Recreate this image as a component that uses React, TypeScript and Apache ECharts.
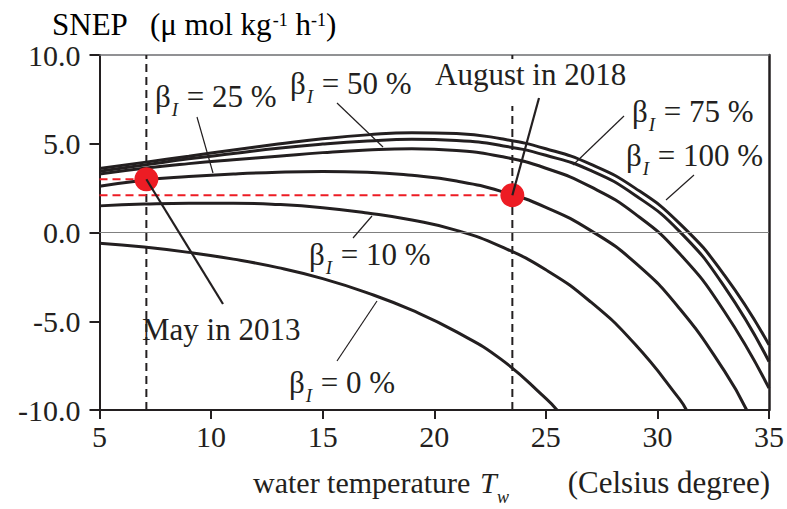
import React, { useEffect, useRef } from "react";
import * as echarts from "echarts";

// Water temperature samples (°C) and SNEP (µmol kg⁻¹ h⁻¹) per light-use ratio βI
const tempsFull = [5, 7, 9, 11, 13, 15, 17, 19, 21, 23, 25, 27, 29, 31, 33, 35];
const snep100 = [3.6, 3.95, 4.3, 4.65, 4.98, 5.28, 5.5, 5.62, 5.58, 5.28, 4.72, 3.85, 2.5, 0.5, -2.4, -6.33];
const snep75 = [3.45, 3.8, 4.15, 4.45, 4.75, 4.98, 5.15, 5.25, 5.18, 4.9, 4.35, 3.5, 2.1, 0.05, -3.05, -7.27];
const snep50 = [3.3, 3.62, 3.88, 4.1, 4.3, 4.5, 4.65, 4.72, 4.62, 4.28, 3.62, 2.58, 1.05, -1.2, -4.45, -8.77];

const temps25 = [5, 7, 9, 11, 13, 15, 17, 19, 21, 23, 25, 27, 29, 31, 33, 34];
const snep25 = [2.6, 2.95, 3.15, 3.3, 3.4, 3.44, 3.4, 3.22, 2.9, 2.32, 1.42, 0.12, -1.7, -4.3, -7.8, -10];

const temps10 = [5, 7, 9, 11, 13, 15, 17, 19, 21, 23, 25, 27, 29, 31, 31.3];
const snep10 = [1.5, 1.6, 1.65, 1.65, 1.58, 1.4, 1.1, 0.7, 0.12, -0.8, -2.1, -3.9, -6.3, -9.4, -10];

const temps0 = [5, 7, 9, 11, 13, 15, 17, 19, 21, 23, 25, 25.5];
const snep0 = [-0.6, -0.82, -1.12, -1.5, -1.98, -2.6, -3.4, -4.38, -5.6, -7.15, -9.35, -10];

// Observed months: [water temperature, SNEP]
const may2013 = [7.1, 3.0];
const aug2018 = [23.5, 2.1];

const xTicks = [5, 10, 15, 20, 25, 30, 35];
const yTicks = [-10, -5, 0, 5, 10];

const FONT = "'Liberation Serif', 'Times New Roman', serif";
const INK = "#231f20";
const RED = "#ed1c24";

const zip = (xs: number[], ys: number[]) => xs.map((x, i) => [x, ys[i]]);

const curve = (name: string, data: number[][]) => ({
  name,
  type: "line",
  data,
  showSymbol: false,
  symbol: "none",
  smooth: 0.5,
  lineStyle: { color: INK, width: 3 },
  z: 3,
  silent: true,
});

const mainTok = { fontSize: 31, fontFamily: FONT, color: INK, verticalAlign: "top" };
const betaRich = {
  m: mainTok,
  s: { fontSize: 19, fontFamily: FONT, fontStyle: "italic", color: INK, verticalAlign: "top", padding: [19, 1, 0, 1] },
};

const betaText = (pct: string, x: number, y: number) => ({
  type: "text",
  x,
  y,
  z: 10,
  style: {
    text: `{m|β}{s|I}{m| = ${pct} %}`,
    rich: betaRich,
    align: "left",
    verticalAlign: "top",
    fill: INK,
  },
});

const plainText = (text: string, x: number, y: number, extra: any = {}) => ({
  type: "text",
  x,
  y,
  z: 10,
  style: {
    text,
    fontSize: 31,
    fontFamily: FONT,
    fill: INK,
    align: "left",
    verticalAlign: "top",
    ...extra,
  },
});

const leader = (x1: number, y1: number, x2: number, y2: number, w = 1.2) => ({
  type: "line",
  z: 12,
  shape: { x1, y1, x2, y2 },
  style: { stroke: INK, lineWidth: w },
});

export default function App() {
  const ref = useRef<HTMLDivElement>(null);

  useEffect(() => {
    if (!ref.current) return;
    const chart = echarts.init(ref.current, undefined, { renderer: "svg" });

    const axisFont = { fontSize: 30, fontFamily: FONT, color: INK };

    chart.setOption({
      animation: false,
      backgroundColor: "#ffffff",
      grid: { left: 99.5, right: 17.5, top: 55, bottom: 99 },
      xAxis: [
        {
          type: "value",
          min: xTicks[0],
          max: xTicks[xTicks.length - 1],
          interval: 5,
          axisLine: { onZero: false, lineStyle: { color: INK, width: 2 } },
          axisTick: { length: 9, lineStyle: { color: INK, width: 2 } },
          axisLabel: { ...axisFont, margin: 11 },
          splitLine: { show: false },
        },
        {
          type: "value",
          position: "top",
          min: xTicks[0],
          max: xTicks[xTicks.length - 1],
          axisLine: { onZero: false, lineStyle: { color: "#6d6e71", width: 1.5 } },
          axisTick: { show: false },
          axisLabel: { show: false },
          splitLine: { show: false },
        },
      ],
      yAxis: [
        {
          type: "value",
          min: yTicks[0],
          max: yTicks[yTicks.length - 1],
          interval: 5,
          axisLine: { show: true, onZero: false, lineStyle: { color: INK, width: 2 } },
          axisTick: { show: true, length: 10, lineStyle: { color: INK, width: 2 } },
          axisLabel: { ...axisFont, margin: 19, formatter: (v: number) => v.toFixed(1) },
          splitLine: { show: false },
        },
        {
          type: "value",
          position: "right",
          min: yTicks[0],
          max: yTicks[yTicks.length - 1],
          axisLine: { show: true, onZero: false, lineStyle: { color: INK, width: 2.5 } },
          axisTick: { show: false },
          axisLabel: { show: false },
          splitLine: { show: false },
        },
      ],
      series: [
        {
          name: "zero",
          type: "line",
          data: [],
          silent: true,
          markLine: {
            silent: true,
            symbol: "none",
            label: { show: false },
            lineStyle: { color: "#808080", width: 1.2, type: "solid" },
            data: [{ yAxis: 0 }],
          },
        },
        {
          name: "may-temp",
          type: "line",
          data: [[may2013[0], yTicks[0]], [may2013[0], yTicks[yTicks.length - 1]]],
          symbol: "none",
          lineStyle: { color: INK, width: 2, type: [8, 5] },
          z: 2,
          silent: true,
        },
        {
          name: "aug-temp",
          type: "line",
          data: [[aug2018[0], yTicks[0]], [aug2018[0], yTicks[yTicks.length - 1]]],
          symbol: "none",
          lineStyle: { color: INK, width: 2, type: [8, 5] },
          z: 2,
          silent: true,
        },
        {
          name: "may-snep",
          type: "line",
          data: [[xTicks[0], may2013[1]], may2013],
          symbol: "none",
          lineStyle: { color: RED, width: 2, type: [8, 5] },
          z: 2,
          silent: true,
        },
        {
          name: "aug-snep",
          type: "line",
          data: [[xTicks[0], aug2018[1]], aug2018],
          symbol: "none",
          lineStyle: { color: RED, width: 2, type: [8, 5] },
          z: 2,
          silent: true,
        },
        curve("β100", zip(tempsFull, snep100)),
        curve("β75", zip(tempsFull, snep75)),
        curve("β50", zip(tempsFull, snep50)),
        curve("β25", zip(temps25, snep25)),
        curve("β10", zip(temps10, snep10)),
        curve("β0", zip(temps0, snep0)),
        {
          name: "observed",
          type: "scatter",
          data: [may2013, aug2018],
          symbol: "circle",
          symbolSize: 24,
          itemStyle: { color: RED, opacity: 1 },
          z: 5,
          silent: true,
        },
      ],
    });

    const mayPx = chart.convertToPixel({ xAxisIndex: 0, yAxisIndex: 0 }, may2013) as number[];
    const augPx = chart.convertToPixel({ xAxisIndex: 0, yAxisIndex: 0 }, aug2018) as number[];

    chart.setOption({
      graphic: [
        {
          type: "text",
          x: 52,
          y: 9,
          z: 10,
          style: {
            text: "{m|SNEP   (μ mol kg}{p|-1}{m| h}{p|-1}{m|)}",
            rich: {
              m: mainTok,
              p: { fontSize: 18, fontFamily: FONT, color: INK, verticalAlign: "top", padding: [2, 0, 0, 0] },
            },
            align: "left",
            verticalAlign: "top",
          },
        },
        plainText("water temperature", 253, 467, { fontSize: 30 }),
        plainText("T", 480, 467, { fontStyle: "italic", fontSize: 30 }),
        plainText("w", 497, 488, { fontStyle: "italic", fontSize: 18 }),
        plainText("(Celsius degree)", 770, 467, { align: "right", fontSize: 31 }),
        betaText("25", 155, 81),
        betaText("50", 290, 68),
        betaText("75", 632, 96),
        betaText("100", 626, 140),
        betaText("10", 309, 239),
        betaText("0", 289, 367),
        plainText("August in 2018", 433, 59, { backgroundColor: "#ffffff", padding: [0, 2, 16, 2] }),
        plainText("May in 2013", 142, 314),
        leader(197, 117, 213, 173),
        leader(337, 103, 383, 147),
        leader(624, 116, 573, 165),
        leader(694, 175, 666, 200),
        leader(372, 216, 353, 238),
        leader(377, 301, 337, 361),
        leader(mayPx[0], mayPx[1], 223, 304, 2.2),
        leader(augPx[0], augPx[1], 539, 98, 2.2),
      ],
    });

    return () => chart.dispose();
  }, []);

  return (
    <div
      ref={ref}
      style={{ position: "absolute", left: 0, top: 0, width: 787, height: 509 }}
    />
  );
}
